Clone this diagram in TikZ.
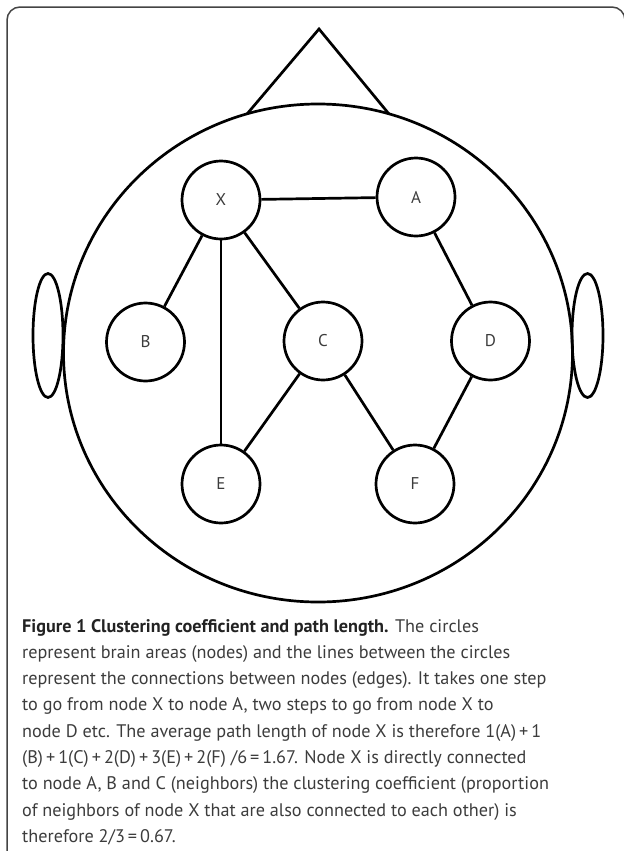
\documentclass[tikz,border=0pt]{standalone}
\usepackage{fontspec}
\setmainfont{PT Sans}
\definecolor{captext}{HTML}{3C3C3C}
\definecolor{capbold}{HTML}{222222}
\definecolor{framegray}{HTML}{444444}
\begin{document}
\begin{tikzpicture}[x=1bp,y=-1bp,
  brainarea/.style={draw=black, line width=2.7bp, circle, minimum size=78bp,
    inner sep=0pt, font=\fontsize{17bp}{17bp}\selectfont, text=captext},
  edge/.style={draw=black, line width=2.7bp},
  outline/.style={draw=black, line width=2.7bp},
  capline/.style={anchor=base west, inner sep=0pt, text=captext,
    font=\fontsize{18.2bp}{26bp}\selectfont}]
  \useasboundingbox (0,0) rectangle (624,851);
  \begin{scope}
    \clip (0,0) rectangle (624,851);
    % panel frame, open at the bottom
    \draw[framegray, line width=1.5bp, rounded corners=13bp]
      (7,900) -- (7,7) -- (625,7) -- (625,900);
  \end{scope}

  % head, nose and ears
  \draw[outline] (318,353) ellipse [x radius=254.5, y radius=249];
  \coordinate (noseL) at (247,114);
  \coordinate (noseR) at (389,114);
  \coordinate (noseTip) at (319,29);
  \draw[outline, line join=miter] (noseL) -- (noseTip) -- (noseR);
  \draw[outline] (48,335.5) ellipse [x radius=15, y radius=62];
  \draw[outline] (587.5,335.5) ellipse [x radius=15.5, y radius=62];

  % brain areas
  \node[brainarea] (X) at (221,200) {X};
  \node[brainarea] (A) at (416,197) {A};
  \node[brainarea] (B) at (145.5,342) {B};
  \node[brainarea] (C) at (323,341) {C};
  \node[brainarea] (D) at (490.5,341) {D};
  \node[brainarea] (E) at (221,484) {E};
  \node[brainarea] (F) at (415,484) {F};

  % connections
  \draw[edge] (X) -- (A);
  \draw[edge] (X) -- (B);
  \draw[edge] (X) -- (E);
  \draw[edge] (X) -- (C);
  \draw[edge] (A) -- (D);
  \draw[edge] (C) -- (E);
  \draw[edge] (C) -- (F);
  \draw[edge] (D) -- (F);

  % caption
  \node[capline] (cap1) at (22,632) {{\bfseries\color{capbold}Figure 1 Clustering coefficient and path length.} The circles};
  \node[capline] (cap2) at (22,658.3) {represent brain areas (nodes) and the lines between the circles};
  \node[capline] (cap3) at (22,684.6) {represent the connections between nodes (edges). It takes one step};
  \node[capline] (cap4) at (22,710.9) {to go from node X to node A, two steps to go from node X to};
  \node[capline] (cap5) at (22,737.2) {node D etc. The average path length of node X is therefore 1(A)\,+\,1};
  \node[capline] (cap6) at (22,763.5) {(B)\,+\,1(C)\,+\,2(D)\,+\,3(E)\,+\,2(F) /6\,=\,1.67. Node X is directly connected};
  \node[capline] (cap7) at (22,789.8) {to node A, B and C (neighbors) the clustering coefficient (proportion};
  \node[capline] (cap8) at (22,816.1) {of neighbors of node X that are also connected to each other) is};
  \node[capline] (cap9) at (22,842.4) {therefore 2/3\,=\,0.67.};
\end{tikzpicture}
\end{document}
